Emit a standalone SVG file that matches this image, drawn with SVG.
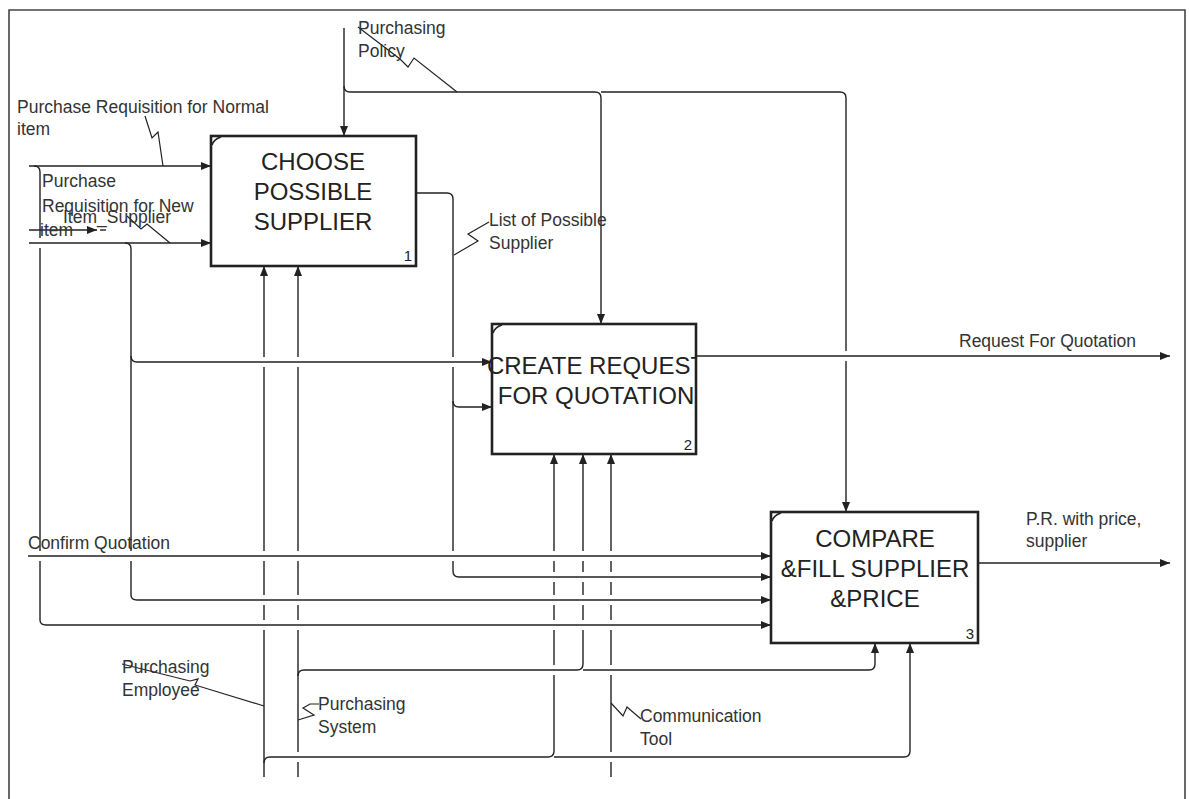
<svg xmlns="http://www.w3.org/2000/svg" width="1189" height="799" viewBox="0 0 1189 799">
<defs>
<marker id="ah" viewBox="0 0 10 8" refX="10" refY="4" markerWidth="10" markerHeight="8" markerUnits="userSpaceOnUse" orient="auto"><path d="M0,0 L10,4 L0,8 z" fill="#222"/></marker>
<clipPath id="c2"><rect x="0" y="0" width="695" height="799"/></clipPath>
</defs>
<style>
.frame{fill:none;stroke:#444;stroke-width:1.6}
.box{fill:#fff;stroke:#222;stroke-width:2.6}
.corner{fill:none;stroke:#222;stroke-width:1.8}
.ln{fill:none;stroke:#222;stroke-width:1.4}
.arr{marker-end:url(#ah)}
.sq{fill:none;stroke:#222;stroke-width:1.2}
.bt{font-family:"Liberation Sans",Arial,sans-serif;font-size:24px;fill:#222;text-anchor:middle}
.num{font-family:"Liberation Sans",Arial,sans-serif;font-size:15px;fill:#222;text-anchor:end}
.lb{font-family:"Liberation Sans",Arial,sans-serif;font-size:17.5px;fill:#333}
</style>
<rect width="1189" height="799" fill="#fff"/>
<path class="frame" d="M9,799 L9,10 L1185,10 L1185,799"/>

<g id="connectors">
<!-- inputs -->
<path class="ln arr" d="M29,166 L211,166"/>
<path class="ln arr" d="M29,243 L211,243"/>
<path class="ln arr" d="M29,230 L97,230"/>
<path class="ln" d="M100,230 L106,230"/>
<path class="ln arr" d="M28,556 L771,556"/>
<path class="ln arr" d="M34,166 Q40,166 40,172 L40,238 M40,248 L40,551 M40,561 L40,620 Q40,625 46,625 L771,625"/>
<path class="ln arr" d="M125,243 Q131,243 131,249 L131,356 Q131,362 137,362 L492,362"/>
<path class="ln arr" d="M131,356 L131,551 M131,561 L131,595 Q131,600 137,600 L771,600"/>
<!-- control -->
<path class="ln arr" d="M344,28 L344,136"/>
<path class="ln arr" d="M344,86 Q344,92 350,92 L595,92 Q601,92 601,98 L601,324"/>
<path class="ln arr" d="M601,92 L840,92 Q846,92 846,98 L846,351 M846,361 L846,512"/>
<!-- output 1 -->
<path class="ln arr" d="M416,193 L447,193 Q453,193 453,199 L453,357 M453,367 L453,551 M453,561 L453,571 Q453,577 459,577 L771,577"/>
<path class="ln arr" d="M453,401 Q453,407 459,407 L492,407"/>
<!-- outputs -->
<path class="ln arr" d="M696,356 L1170,356"/>
<path class="ln arr" d="M978,563 L1170,563"/>
<!-- mechanisms -->
<path class="ln arr" d="M264,777 L264,630 M264,620 L264,605 M264,595 L264,561 M264,551 L264,367 M264,357 L264,266"/>
<path class="ln arr" d="M264,763 Q264,757 270,757 L548,757 Q554,757 554,751 L554,675 M554,665 L554,630 M554,620 L554,605 M554,595 L554,582 M554,572 L554,561 M554,551 L554,454"/>
<path class="ln arr" d="M554,757 L904,757 Q910,757 910,751 L910,643"/>
<path class="ln arr" d="M298,777 L298,762 M298,752 L298,630 M298,620 L298,605 M298,595 L298,561 M298,551 L298,367 M298,357 L298,266"/>
<path class="ln arr" d="M298,676 Q298,670 304,670 L577,670 Q583,670 583,664 L583,630 M583,620 L583,605 M583,595 L583,582 M583,572 L583,561 M583,551 L583,454"/>
<path class="ln arr" d="M583,670 L869,670 Q875,670 875,664 L875,643"/>
<path class="ln arr" d="M611,777 L611,762 M611,752 L611,675 M611,665 L611,630 M611,620 L611,605 M611,595 L611,582 M611,572 L611,561 M611,551 L611,454"/>
<!-- squiggles -->
<path class="sq" d="M457,92 L414,58 L408,67 L400,59 L358,27"/>
<path class="sq" d="M145,116 L152,138 L158,132 L163,166"/>
<path class="sq" d="M127,216 L141,229 L147,224 L170,243"/>
<path class="sq" d="M489,222 L468,234 L478,241 L454,255"/>
<path class="sq" d="M122,664 L190,681 L198,679 L195,685 L264,706"/>
<path class="sq" d="M319,704 L310,704 L303,708 L314,715 L298,720"/>
<path class="sq" d="M611,703 L623,716 L627,707 L641,719"/>
</g>

<g id="labels">
<text class="lb" x="358" y="34">Purchasing</text>
<text class="lb" x="358" y="57">Policy</text>
<text class="lb" x="17" y="113">Purchase Requisition for Normal</text>
<text class="lb" x="17" y="135">item</text>
<text class="lb" x="42" y="187">Purchase</text>
<text class="lb" x="42" y="212">Requisition for New</text>
<text class="lb" x="40" y="236">item</text>
<text class="lb" x="63" y="223">Item_Supplier</text>
<text class="lb" x="489" y="226">List of Possible</text>
<text class="lb" x="489" y="249">Supplier</text>
<text class="lb" x="959" y="347">Request For Quotation</text>
<text class="lb" x="1026" y="525">P.R. with price,</text>
<text class="lb" x="1026" y="547">supplier</text>
<text class="lb" x="28" y="549">Confirm Quotation</text>
<text class="lb" x="122" y="673">Purchasing</text>
<text class="lb" x="122" y="696">Employee</text>
<text class="lb" x="318" y="710">Purchasing</text>
<text class="lb" x="318" y="733">System</text>
<text class="lb" x="640" y="722">Communication</text>
<text class="lb" x="640" y="745">Tool</text>
</g>

<g id="node1">
<rect class="box" x="211" y="136" width="205" height="130"/>
<path class="corner" d="M212,145 Q214,139 221,137"/>
<text class="bt" x="313" y="170">CHOOSE</text>
<text class="bt" x="313" y="200">POSSIBLE</text>
<text class="bt" x="313" y="230">SUPPLIER</text>
<text class="num" x="412" y="261">1</text>
</g>

<g id="node2">
<rect class="box" x="492" y="324" width="204" height="130"/>
<path class="corner" d="M493,333 Q495,327 502,325"/>
<g clip-path="url(#c2)">
<text class="bt" x="596" y="374">CREATE REQUEST</text>
<text class="bt" x="596" y="404">FOR QUOTATION</text>
</g>
<text class="num" x="692" y="450">2</text>
</g>

<g id="node3">
<rect class="box" x="771" y="512" width="207" height="131"/>
<path class="corner" d="M772,521 Q774,515 781,513"/>
<text class="bt" x="875" y="547">COMPARE</text>
<text class="bt" x="875" y="577">&amp;FILL SUPPLIER</text>
<text class="bt" x="875" y="607">&amp;PRICE</text>
<text class="num" x="974" y="639">3</text>
</g>
</svg>
